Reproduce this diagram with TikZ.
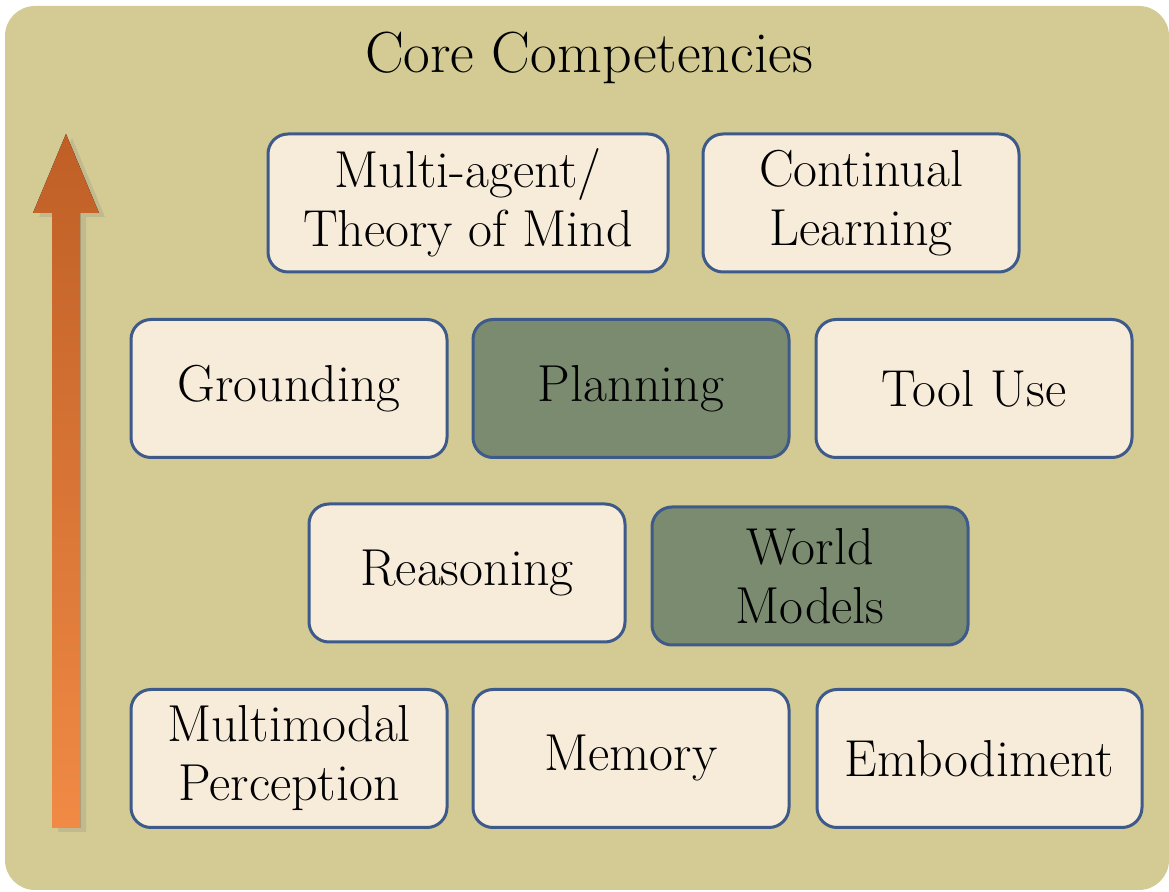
\documentclass[tikz,border=0pt]{standalone}
\usetikzlibrary{positioning, shadows}
\definecolor{bgolive}{HTML}{D3CB93}
\definecolor{boxcream}{HTML}{F7EBDA}
\definecolor{boxgreen}{HTML}{7A8B70}
\definecolor{boxedge}{HTML}{3D5A8A}
\definecolor{arrowtop}{HTML}{BF5F26}
\definecolor{arrowbot}{HTML}{F08A45}
\tikzset{
    comp/.style={rectangle, draw=boxedge, line width=1.5pt, rounded corners=10pt, fill=boxcream, minimum width=158pt, minimum height=69pt, align=center, text centered, inner sep=2pt, font=\fontsize{26}{29.5}\selectfont},
    keycomp/.style={comp, fill=boxgreen}
}

\begin{document}
\begin{tikzpicture}[x=0.5pt, y=-0.5pt]
    \useasboundingbox (0,0) rectangle (1169,892);
    \fill [bgolive, rounded corners=15pt] (5,6) rectangle (1169,890);

    \node (title) at (589,58) [font=\fontsize{29}{34}\selectfont] {Core Competencies};

    % Upward arrow
    \fill [top color=arrowtop, bottom color=arrowbot, drop shadow={shadow xshift=3pt, shadow yshift=-2pt, opacity=0.22}]
        (52,828) -- (52,213) -- (33,213) -- (66,134) -- (99,213) -- (80,213) -- (80,828) -- cycle;

    % Bottom row
    \node (percep) [comp] at (289,758.5) {Multimodal\\Perception};
    \node (memory) [comp, right=11.5pt of percep] {Memory};
    \node (embod) [comp, minimum width=162.5pt, right=12.5pt of memory] {Embodiment};

    \node (reason) [comp] at (467,573) {Reasoning};
    \node (world) [keycomp, right=12pt of reason, yshift=-1.5pt] {World\\Models};

    \node (ground) [comp] at (289,388.5) {Grounding};
    \node (plan) [keycomp, right=11.5pt of ground] {Planning};
    \node (tool) [comp, right=12pt of plan] {Tool Use};

    % Top row
    \node (multi) [comp, minimum width=200pt] at (468,203) {Multi-agent/\\Theory of Mind};
    \node (contin) [comp, right=16pt of multi] {Continual\\Learning};
\end{tikzpicture}
\end{document}
